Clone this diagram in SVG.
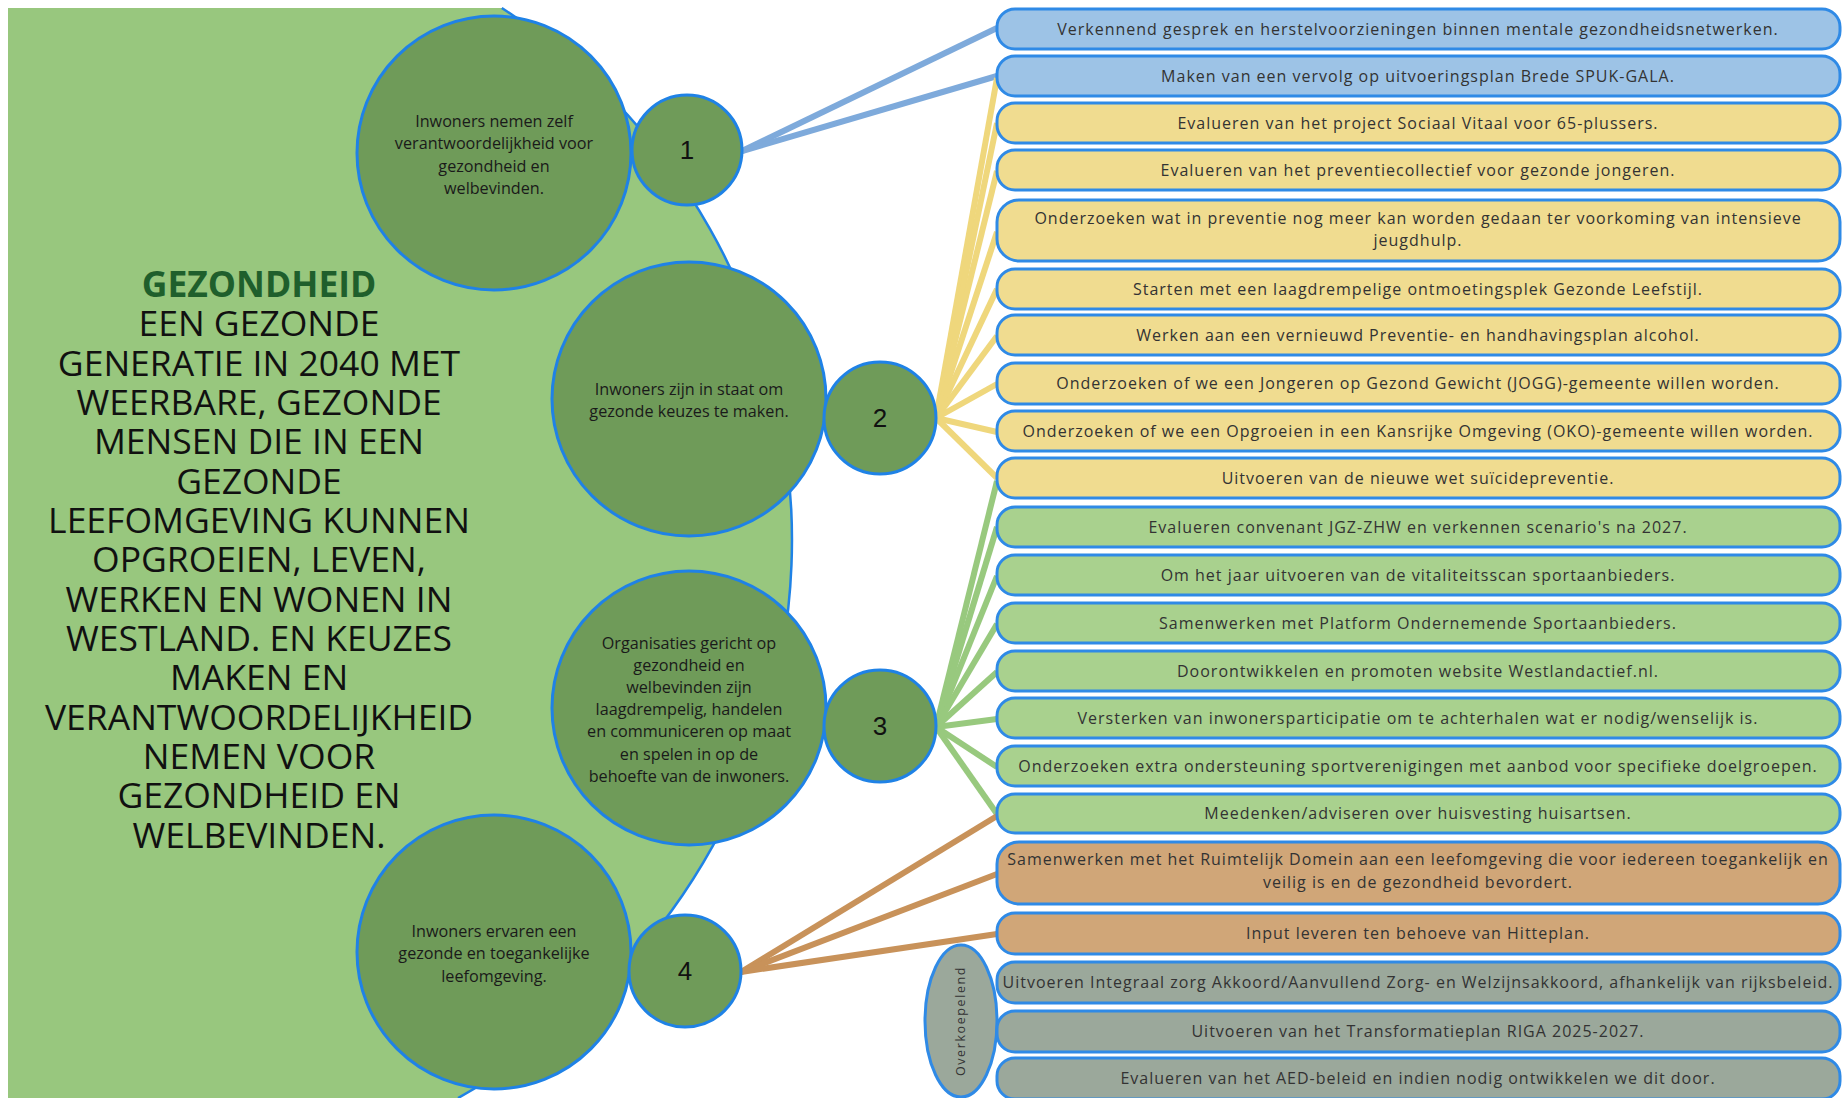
<svg xmlns="http://www.w3.org/2000/svg" width="1843" height="1098" viewBox="0 0 1843 1098">
<style>
.bgfill{fill:#98c77e}
.arc{fill:none;stroke:#1f82e6;stroke-width:2.5}
.big{fill:#6f9b59;stroke:#1f82e6;stroke-width:3}
.num{font-family:"Liberation Sans",Arial,sans-serif;font-size:26px;fill:#111;text-anchor:middle}
.ct{font-family:"Open Sans","Noto Sans",sans-serif;font-size:16.2px;fill:#1a1a1a;text-anchor:middle}
.title{font-family:"Open Sans","Noto Sans",sans-serif;font-size:35.5px;fill:#111;text-anchor:middle}
.head{font-weight:bold;fill:#1f5f2c}
.box{stroke:#2f8ae6;stroke-width:3}
.blue{fill:#9dc3e6}.yel{fill:#f0dc90}.grn{fill:#a9d18e}.brn{fill:#d0a678}.gry{fill:#9ba89b}
.bt{font-family:"Open Sans","Noto Sans",sans-serif;font-size:16px;fill:#333;text-anchor:middle;letter-spacing:1px}
.ov{font-family:"Open Sans","Noto Sans",sans-serif;font-size:12.5px;fill:#333;text-anchor:middle;letter-spacing:1.6px}
.cb{stroke:#7eaadb;stroke-width:6;fill:none}
.cy{stroke:#efd77c;stroke-width:6;fill:none}
.cg{stroke:#98c97e;stroke-width:6;fill:none}
.cr{stroke:#c8925a;stroke-width:6;fill:none}
</style>
<g id="background">
<path class="bgfill" d="M8,8 L501.8,8 A642 636 0 0 1 458,1098 L8,1098 Z"/>
<path class="arc" d="M501.8,8 A642 636 0 0 1 458,1098"/>
</g>
<g id="connectors">
<line class="cb" x1="742" y1="151" x2="997" y2="28"/>
<line class="cb" x1="742" y1="151" x2="997" y2="76"/>
<line class="cy" x1="936" y1="418" x2="997" y2="78"/>
<line class="cy" x1="936" y1="418" x2="997" y2="123"/>
<line class="cy" x1="936" y1="418" x2="997" y2="171"/>
<line class="cy" x1="936" y1="418" x2="997" y2="232"/>
<line class="cy" x1="936" y1="418" x2="997" y2="289"/>
<line class="cy" x1="936" y1="418" x2="997" y2="336"/>
<line class="cy" x1="936" y1="418" x2="997" y2="384"/>
<line class="cy" x1="936" y1="418" x2="997" y2="432"/>
<line class="cy" x1="936" y1="418" x2="997" y2="478"/>
<line class="cg" x1="936" y1="727" x2="997" y2="481"/>
<line class="cg" x1="936" y1="727" x2="997" y2="527"/>
<line class="cg" x1="936" y1="727" x2="997" y2="576"/>
<line class="cg" x1="936" y1="727" x2="997" y2="624"/>
<line class="cg" x1="936" y1="727" x2="997" y2="672"/>
<line class="cg" x1="936" y1="727" x2="997" y2="719"/>
<line class="cg" x1="936" y1="727" x2="997" y2="767"/>
<line class="cg" x1="936" y1="727" x2="997" y2="814"/>
<line class="cr" x1="741" y1="972" x2="997" y2="816"/>
<line class="cr" x1="741" y1="972" x2="997" y2="874"/>
<line class="cr" x1="741" y1="972" x2="997" y2="934"/>
</g>
<g id="title">
<text class="title head" x="259" y="297">GEZONDHEID</text>
<text class="title" x="259" y="336">EEN GEZONDE</text>
<text class="title" x="259" y="376">GENERATIE IN 2040 MET</text>
<text class="title" x="259" y="415">WEERBARE, GEZONDE</text>
<text class="title" x="259" y="454">MENSEN DIE IN EEN</text>
<text class="title" x="259" y="494">GEZONDE</text>
<text class="title" x="259" y="533">LEEFOMGEVING KUNNEN</text>
<text class="title" x="259" y="572">OPGROEIEN, LEVEN,</text>
<text class="title" x="259" y="612">WERKEN EN WONEN IN</text>
<text class="title" x="259" y="651">WESTLAND. EN KEUZES</text>
<text class="title" x="259" y="690">MAKEN EN</text>
<text class="title" x="259" y="730">VERANTWOORDELIJKHEID</text>
<text class="title" x="259" y="769">NEMEN VOOR</text>
<text class="title" x="259" y="808">GEZONDHEID EN</text>
<text class="title" x="259" y="848">WELBEVINDEN.</text>
</g>
<g id="goal1">
<circle class="big" cx="494" cy="153" r="137"/>
<text class="ct" x="494" y="127">Inwoners nemen zelf</text>
<text class="ct" x="494" y="149">verantwoordelijkheid voor</text>
<text class="ct" x="494" y="172">gezondheid en</text>
<text class="ct" x="494" y="194">welbevinden.</text>
</g>
<g id="num1">
<circle class="big" cx="687" cy="150" r="55"/>
<text class="num" x="687" y="159">1</text>
</g>
<g id="goal2">
<circle class="big" cx="689" cy="399" r="137"/>
<text class="ct" x="689" y="395">Inwoners zijn in staat om</text>
<text class="ct" x="689" y="417">gezonde keuzes te maken.</text>
</g>
<g id="num2">
<circle class="big" cx="880" cy="418" r="56"/>
<text class="num" x="880" y="427">2</text>
</g>
<g id="goal3">
<circle class="big" cx="689" cy="708" r="137"/>
<text class="ct" x="689" y="649">Organisaties gericht op</text>
<text class="ct" x="689" y="671">gezondheid en</text>
<text class="ct" x="689" y="693">welbevinden zijn</text>
<text class="ct" x="689" y="715">laagdrempelig, handelen</text>
<text class="ct" x="689" y="737">en communiceren op maat</text>
<text class="ct" x="689" y="760">en spelen in op de</text>
<text class="ct" x="689" y="782">behoefte van de inwoners.</text>
</g>
<g id="num3">
<circle class="big" cx="880" cy="726" r="56"/>
<text class="num" x="880" y="735">3</text>
</g>
<g id="goal4">
<circle class="big" cx="494" cy="952" r="137"/>
<text class="ct" x="494" y="937">Inwoners ervaren een</text>
<text class="ct" x="494" y="959">gezonde en toegankelijke</text>
<text class="ct" x="494" y="982">leefomgeving.</text>
</g>
<g id="num4">
<circle class="big" cx="685" cy="971" r="56"/>
<text class="num" x="685" y="980">4</text>
</g>
<g id="overkoepelend">
<ellipse class="box gry" cx="961" cy="1021" rx="36" ry="76"/>
<text class="ov" transform="translate(965 1021) rotate(-90)" x="0" y="0">Overkoepelend</text>
</g>
<g id="b1"><rect class="box blue" x="997" y="9" width="843" height="40" rx="18"/><text class="bt" x="1418" y="35">Verkennend gesprek en herstelvoorzieningen binnen mentale gezondheidsnetwerken.</text></g>
<g id="b2"><rect class="box blue" x="997" y="56" width="843" height="40" rx="18"/><text class="bt" x="1418" y="82">Maken van een vervolg op uitvoeringsplan Brede SPUK-GALA.</text></g>
<g id="b3"><rect class="box yel" x="997" y="103" width="843" height="40" rx="18"/><text class="bt" x="1418" y="129">Evalueren van het project Sociaal Vitaal voor 65-plussers.</text></g>
<g id="b4"><rect class="box yel" x="997" y="150" width="843" height="40" rx="18"/><text class="bt" x="1418" y="176">Evalueren van het preventiecollectief voor gezonde jongeren.</text></g>
<g id="b5"><rect class="box yel" x="997" y="200" width="843" height="61" rx="22"/><text class="bt" x="1418" y="224">Onderzoeken wat in preventie nog meer kan worden gedaan ter voorkoming van intensieve</text><text class="bt" x="1418" y="246">jeugdhulp.</text></g>
<g id="b6"><rect class="box yel" x="997" y="269" width="843" height="40" rx="18"/><text class="bt" x="1418" y="295">Starten met een laagdrempelige ontmoetingsplek Gezonde Leefstijl.</text></g>
<g id="b7"><rect class="box yel" x="997" y="315" width="843" height="40" rx="18"/><text class="bt" x="1418" y="341">Werken aan een vernieuwd Preventie- en handhavingsplan alcohol.</text></g>
<g id="b8"><rect class="box yel" x="997" y="363" width="843" height="41" rx="18"/><text class="bt" x="1418" y="389">Onderzoeken of we een Jongeren op Gezond Gewicht (JOGG)-gemeente willen worden.</text></g>
<g id="b9"><rect class="box yel" x="997" y="411" width="843" height="40" rx="18"/><text class="bt" x="1418" y="437">Onderzoeken of we een Opgroeien in een Kansrijke Omgeving (OKO)-gemeente willen worden.</text></g>
<g id="b10"><rect class="box yel" x="997" y="458" width="843" height="40" rx="18"/><text class="bt" x="1418" y="484">Uitvoeren van de nieuwe wet suïcidepreventie.</text></g>
<g id="b11"><rect class="box grn" x="997" y="507" width="843" height="40" rx="18"/><text class="bt" x="1418" y="533">Evalueren convenant JGZ-ZHW en verkennen scenario's na 2027.</text></g>
<g id="b12"><rect class="box grn" x="997" y="555" width="843" height="40" rx="18"/><text class="bt" x="1418" y="581">Om het jaar uitvoeren van de vitaliteitsscan sportaanbieders.</text></g>
<g id="b13"><rect class="box grn" x="997" y="603" width="843" height="40" rx="18"/><text class="bt" x="1418" y="629">Samenwerken met Platform Ondernemende Sportaanbieders.</text></g>
<g id="b14"><rect class="box grn" x="997" y="651" width="843" height="40" rx="18"/><text class="bt" x="1418" y="677">Doorontwikkelen en promoten website Westlandactief.nl.</text></g>
<g id="b15"><rect class="box grn" x="997" y="698" width="843" height="40" rx="18"/><text class="bt" x="1418" y="724">Versterken van inwonersparticipatie om te achterhalen wat er nodig/wenselijk is.</text></g>
<g id="b16"><rect class="box grn" x="997" y="746" width="843" height="40" rx="18"/><text class="bt" x="1418" y="772">Onderzoeken extra ondersteuning sportverenigingen met aanbod voor specifieke doelgroepen.</text></g>
<g id="b17"><rect class="box grn" x="997" y="794" width="843" height="39" rx="18"/><text class="bt" x="1418" y="819">Meedenken/adviseren over huisvesting huisartsen.</text></g>
<g id="b18"><rect class="box brn" x="997" y="842" width="843" height="62" rx="22"/><text class="bt" x="1418" y="865">Samenwerken met het Ruimtelijk Domein aan een leefomgeving die voor iedereen toegankelijk en</text><text class="bt" x="1418" y="888">veilig is en de gezondheid bevordert.</text></g>
<g id="b19"><rect class="box brn" x="997" y="913" width="843" height="41" rx="18"/><text class="bt" x="1418" y="939">Input leveren ten behoeve van Hitteplan.</text></g>
<g id="b20"><rect class="box gry" x="997" y="962" width="843" height="41" rx="18"/><text class="bt" x="1418" y="988">Uitvoeren Integraal zorg Akkoord/Aanvullend Zorg- en Welzijnsakkoord, afhankelijk van rijksbeleid.</text></g>
<g id="b21"><rect class="box gry" x="997" y="1011" width="843" height="41" rx="18"/><text class="bt" x="1418" y="1037">Uitvoeren van het Transformatieplan RIGA 2025-2027.</text></g>
<g id="b22"><rect class="box gry" x="997" y="1058" width="843" height="41" rx="18"/><text class="bt" x="1418" y="1084">Evalueren van het AED-beleid en indien nodig ontwikkelen we dit door.</text></g>
</svg>
